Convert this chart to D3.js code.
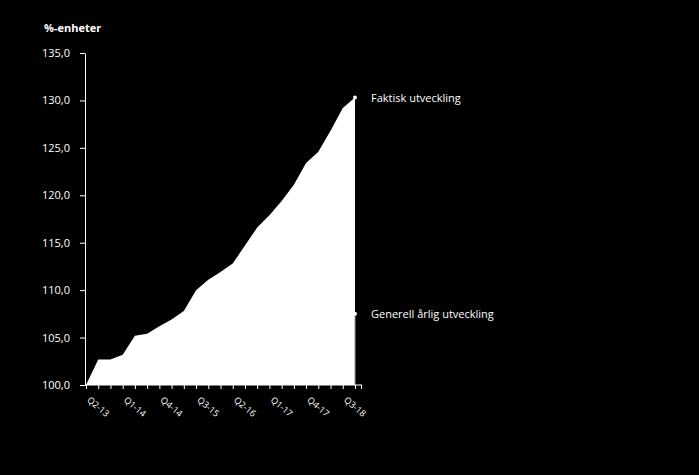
<!DOCTYPE html>
<html>
<head>
<meta charset="utf-8">
<script src="https://cdn.jsdelivr.net/npm/d3@7"></script>
<style>
  body { margin: 0; background: #000; }
  text { font-family: 'Open Sans', sans-serif; fill: #fff; }
</style>
</head>
<body>
<div id="chart"></div>
<script>
const width = 699;
const height = 475;

// Quarters on the x axis
const quarters = ['Q2-13', 'Q3-13', 'Q4-13', 'Q1-14', 'Q2-14', 'Q3-14', 'Q4-14', 'Q1-15',
  'Q2-15', 'Q3-15', 'Q4-15', 'Q1-16', 'Q2-16', 'Q3-16', 'Q4-16', 'Q1-17', 'Q2-17',
  'Q3-17', 'Q4-17', 'Q1-18', 'Q2-18', 'Q3-18', 'Q4-18'];

// Faktisk utveckling (index)
const actual = [100, 102.7, 102.7, 103.2, 105.2, 105.4, 106.2, 106.9, 107.8, 110.0, 111.1,
  111.9, 112.8, 114.7, 116.6, 117.9, 119.4, 121.1, 123.4, 124.6, 126.8, 129.2, 130.3];

// Generell årlig utveckling, end value only is visible
const generalEnd = 107.5;

const yTicks = [100, 105, 110, 115, 120, 125, 130, 135];

const svg = d3.select('#chart')
  .append('svg')
  .attr('width', width)
  .attr('height', height);

// X scale
const x = d3.scalePoint()
  .domain(quarters)
  .range([86, 355]);

// Y scale
const y = d3.scaleLinear()
  .domain([100, 135])
  .range([385, 53]);

const data = quarters.map((q, i) => ({q, v: actual[i]}));

// Area
const area = d3.area()
  .x(d => x(d.q))
  .y0(y(100))
  .y1(d => y(d.v));

svg.append('path')
  .datum(data)
  .attr('fill', '#fff')
  .attr('d', area);

// Faint edge below the general point
svg.append('line')
  .attr('x1', x(quarters[quarters.length - 1]))
  .attr('x2', x(quarters[quarters.length - 1]))
  .attr('y1', y(generalEnd))
  .attr('y2', y(100))
  .attr('stroke', '#999')
  .attr('stroke-width', 1);

// End markers
svg.append('circle')
  .attr('cx', x(quarters[quarters.length - 1]))
  .attr('cy', y(actual[actual.length - 1]))
  .attr('r', 2)
  .attr('fill', '#fff');

svg.append('circle')
  .attr('cx', x(quarters[quarters.length - 1]))
  .attr('cy', y(generalEnd))
  .attr('r', 2)
  .attr('fill', '#fff');

// Y axis
const yAxis = svg.append('g')
  .attr('transform', 'translate(85,0)')
  .call(d3.axisLeft(y).tickValues(yTicks).tickSize(5).tickSizeOuter(0)
    .tickFormat(d => d3.format('.1f')(d).replace('.', ',')));
yAxis.selectAll('line, path').attr('stroke', '#fff');
yAxis.selectAll('text')
  .attr('x', -15)
  .style('font-size', '11px')
  .style('font-family', "'Open Sans', sans-serif")
  .attr('fill', '#fff');

// X axis
const xAxis = svg.append('g')
  .attr('transform', 'translate(0,385)')
  .call(d3.axisBottom(x).tickSize(4).tickSizeOuter(0)
    .tickFormat((d, i) => i % 3 === 0 ? d : ''));
xAxis.select('.domain').remove();
xAxis.append('line')
  .attr('x1', 85).attr('x2', 362)
  .attr('stroke', '#fff');
xAxis.append('line')
  .attr('x1', 361.5).attr('x2', 361.5)
  .attr('y1', 0).attr('y2', 4)
  .attr('stroke', '#fff');
xAxis.selectAll('line').attr('stroke', '#fff');
xAxis.selectAll('text')
  .attr('y', 0)
  .attr('dy', 0)
  .attr('transform', 'translate(0,16) rotate(40)')
  .style('text-anchor', 'start')
  .style('font-size', '9px')
  .style('font-family', "'Open Sans', sans-serif")
  .attr('fill', '#ddd');

// Axis title
svg.append('text')
  .attr('x', 44)
  .attr('y', 32)
  .style('font-size', '11px')
  .style('font-weight', 'bold')
  .text('%-enheter');

// Series labels
svg.append('text')
  .attr('x', 371)
  .attr('y', y(actual[actual.length - 1]) + 4)
  .style('font-size', '11px')
  .text('Faktisk utveckling');

svg.append('text')
  .attr('x', 371)
  .attr('y', y(generalEnd) + 4)
  .style('font-size', '11px')
  .text('Generell årlig utveckling');
</script>
</body>
</html>
